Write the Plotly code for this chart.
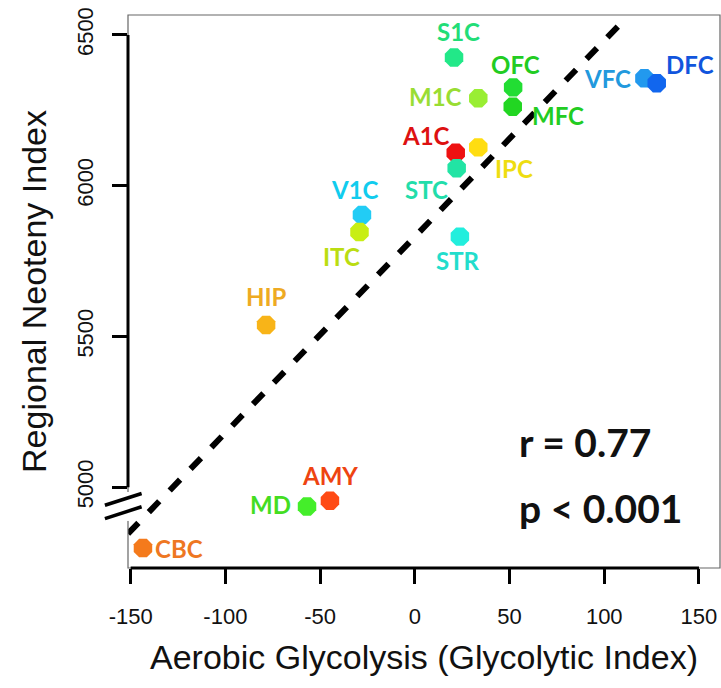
import plotly.graph_objects as go

# ---------------- data ----------------
regions = ["CBC", "MD", "AMY", "HIP", "V1C", "ITC", "STR", "A1C", "STC", "IPC",
           "M1C", "S1C", "OFC", "MFC", "VFC", "DFC"]
glycolytic_index = [-143.5, -56.9, -44.8, -78.5, -27.9, -29.2, 23.8, 21.6, 22.1, 33.5,
                    33.5, 20.7, 51.9, 51.7, 121.2, 127.7]
neoteny_index = [4798, 4936, 4955, 5538, 5903, 5846, 5831, 6109, 6058, 6127,
                 6290, 6425, 6326, 6262, 6356, 6340]
fit_x = [-151.4, 107.2]
fit_y = [4846, 6528]
x_ticks = [-150, -100, -50, 0, 50, 100, 150]
y_ticks = [5000, 5500, 6000, 6500]
stats_lines = ["r = 0.77", "p < 0.001"]

# ---------------- styles ----------------
point_colors = {
    "CBC": "#F47A1C", "MD": "#44EE2A", "AMY": "#FF4A14", "HIP": "#F8B418",
    "V1C": "#22CCF5", "ITC": "#C8EE14", "STR": "#22EEDD", "A1C": "#EE1111",
    "STC": "#22E4A4", "IPC": "#FFDD11", "M1C": "#99EE33", "S1C": "#22E888",
    "OFC": "#22DD33", "MFC": "#22D622", "VFC": "#2299EE", "DFC": "#1166EE",
}
label_colors = {
    "CBC": "#EE7722", "MD": "#44DD22", "AMY": "#EE4411", "HIP": "#EEAA22",
    "V1C": "#11CCEE", "ITC": "#BBDD11", "STR": "#22DDCC", "A1C": "#DD1111",
    "STC": "#22DDAA", "IPC": "#EEDD11", "M1C": "#99DD33", "S1C": "#22DD77",
    "OFC": "#22CC22", "MFC": "#22CC22", "VFC": "#2299DD", "DFC": "#1155DD",
}
# label offsets in pixels (dx right, dy down)
label_offsets = {
    "CBC": (36, 0), "MD": (-37, -2), "AMY": (0, -25), "HIP": (0, -28),
    "V1C": (-7, -25), "ITC": (-18, 24), "STR": (-2, 24), "A1C": (-30, -17),
    "STC": (-30, 21), "IPC": (36, 21), "M1C": (-43, -2), "S1C": (4, -26),
    "OFC": (2, -23), "MFC": (45, 9), "VFC": (-37, 0), "DFC": (33, -19),
}

X_RANGE = [-151.4, 161.1]
Y_RANGE = [4732, 6566]

fig = go.Figure()

fig.add_trace(go.Scatter(
    x=fit_x, y=fit_y, mode="lines",
    line=dict(color="black", width=6, dash="15px,15px"),
    hoverinfo="skip", showlegend=False,
))

fig.add_trace(go.Scatter(
    x=glycolytic_index, y=neoteny_index, mode="markers",
    marker=dict(symbol="octagon", size=20,
                color=[point_colors[r] for r in regions], line=dict(width=0)),
    text=regions, showlegend=False,
))

annotations = []
for r, xv, yv in zip(regions, glycolytic_index, neoteny_index):
    dx, dy = label_offsets[r]
    annotations.append(dict(
        x=xv, y=yv, xref="x", yref="y", text="<b>%s</b>" % r, showarrow=False,
        xshift=dx, yshift=-dy, xanchor="center", yanchor="middle",
        font=dict(family="Lato", size=24, color=label_colors[r]),
    ))

for i, (txt, yp) in enumerate(zip(stats_lines, [0.228, 0.108])):
    annotations.append(dict(
        x=0.657, y=yp, xref="paper", yref="paper", text="<b>%s</b>" % txt,
        showarrow=False, xanchor="left", yanchor="middle",
        font=dict(family="Lato", size=39, color="#111111"),
    ))

shapes = [
    # thin frame
    dict(type="rect", xref="paper", yref="paper", x0=0, x1=1, y0=0, y1=1,
         line=dict(color="#666666", width=1.2), layer="above"),
    # gap in the left frame for the axis break
    dict(type="rect", xref="paper", yref="y", x0=-0.012, x1=0.01, y0=4888, y1=4984,
         fillcolor="white", line=dict(width=0), layer="above"),
    # thick axis lines
    dict(type="line", xref="x", yref="paper", x0=-150, x1=150, y0=0, y1=0,
         line=dict(color="black", width=3), layer="above"),
    dict(type="line", xref="paper", yref="y", x0=0, x1=0, y0=5000, y1=6500,
         line=dict(color="black", width=3), layer="above"),
    # axis-break slashes
    dict(type="line", xref="paper", yref="y", x0=-0.039, x1=0.023, y0=4940, y1=4979,
         line=dict(color="black", width=3.5), layer="above"),
    dict(type="line", xref="paper", yref="y", x0=-0.039, x1=0.023, y0=4896, y1=4935,
         line=dict(color="black", width=3.5), layer="above"),
]

fig.update_layout(
    width=721, height=688,
    margin=dict(l=128, r=1, t=15, b=120),
    paper_bgcolor="white", plot_bgcolor="white",
    annotations=annotations, shapes=shapes,
    font=dict(family="Liberation Sans, Arial", color="#111111"),
)

fig.update_xaxes(
    range=X_RANGE, tickvals=x_ticks, ticktext=[str(v) for v in x_ticks],
    ticks="outside", ticklen=15, tickwidth=3, tickcolor="black",
    showline=False, showgrid=False, zeroline=False,
    tickfont=dict(size=22, family="Liberation Sans, Arial", color="#111111"),
    ticklabelstandoff=14,
    title=dict(text="Aerobic Glycolysis (Glycolytic Index)",
               font=dict(size=34, family="Liberation Sans, Arial", color="#111111"),
               standoff=16),
)
fig.update_yaxes(
    range=Y_RANGE, tickvals=y_ticks, ticktext=[str(v) for v in y_ticks],
    ticks="outside", ticklen=15, tickwidth=3, tickcolor="black", tickangle=-90,
    showline=False, showgrid=False, zeroline=False,
    tickfont=dict(size=22, family="Liberation Sans, Arial", color="#111111"),
    ticklabelstandoff=10,
    title=dict(text="Regional Neoteny Index",
               font=dict(size=34, family="Liberation Sans, Arial", color="#111111"),
               standoff=16),
)

fig.write_html("out.html")
